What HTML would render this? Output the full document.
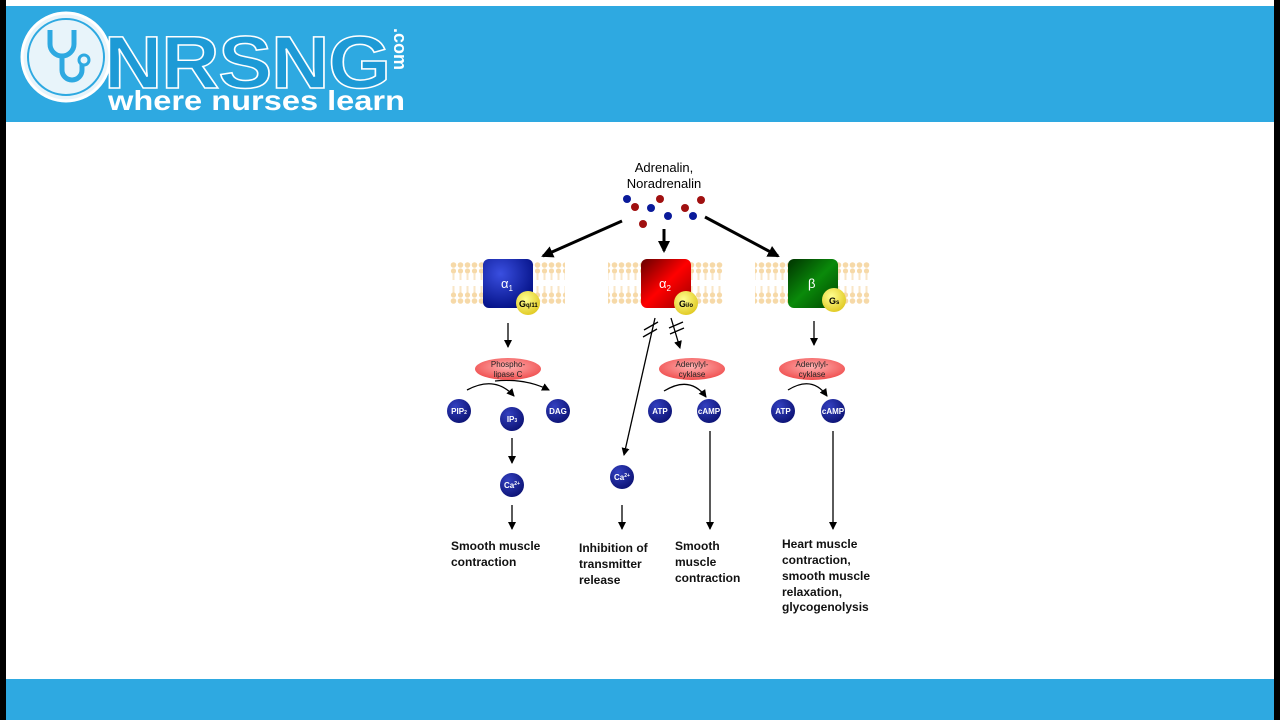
<!DOCTYPE html>
<html><head><meta charset="utf-8"><style>
body{margin:0;width:1280px;height:720px;overflow:hidden;background:#fff;font-family:"Liberation Sans",sans-serif}
</style></head><body>
<svg width="1280" height="720" viewBox="0 0 1280 720" xmlns="http://www.w3.org/2000/svg" font-family="Liberation Sans, sans-serif">
<defs>
<pattern id="lip" x="450" y="262" width="7" height="44" patternUnits="userSpaceOnUse">
<circle cx="3.5" cy="3" r="2.8" fill="#f6d9a8"/><circle cx="3.5" cy="9" r="2.6" fill="#f6d9a8"/>
<rect x="2.5" y="11" width="2" height="7" fill="#f9e6c6"/>
<rect x="2.5" y="24" width="2" height="7" fill="#f9e6c6"/>
<circle cx="3.5" cy="33" r="2.6" fill="#f6d9a8"/><circle cx="3.5" cy="39" r="2.8" fill="#f6d9a8"/>
</pattern>
<radialGradient id="bl" cx="0.35" cy="0.3" r="0.8"><stop offset="0" stop-color="#3a4fe0"/><stop offset="1" stop-color="#000d80"/></radialGradient>
<radialGradient id="ball" cx="0.35" cy="0.3" r="0.8"><stop offset="0" stop-color="#3340c0"/><stop offset="1" stop-color="#0a1070"/></radialGradient>
<linearGradient id="rd" x1="0" y1="0" x2="1" y2="1"><stop offset="0" stop-color="#600"/><stop offset="0.5" stop-color="#f00"/><stop offset="1" stop-color="#900"/></linearGradient>
<linearGradient id="gr" x1="0" y1="0" x2="1" y2="1"><stop offset="0" stop-color="#030"/><stop offset="0.5" stop-color="#0a8a0a"/><stop offset="1" stop-color="#040"/></linearGradient>
<radialGradient id="yl" cx="0.4" cy="0.35" r="0.7"><stop offset="0" stop-color="#ffff90"/><stop offset="1" stop-color="#e0c820"/></radialGradient>
<radialGradient id="el" cx="0.5" cy="0.4" r="0.6"><stop offset="0" stop-color="#ffb0b0"/><stop offset="1" stop-color="#f05050"/></radialGradient>
<marker id="ah" markerWidth="8" markerHeight="8" refX="7" refY="4" orient="auto" markerUnits="userSpaceOnUse"><path d="M0,0 L8,4 L0,8 Z" fill="#000"/></marker>
<marker id="ahb" markerWidth="12" markerHeight="12" refX="10" refY="6" orient="auto" markerUnits="userSpaceOnUse"><path d="M0,0 L12,6 L0,12 Z" fill="#000"/></marker>
</defs>
<rect x="0" y="0" width="6" height="720" fill="#000"/>
<rect x="1274" y="0" width="6" height="720" fill="#000"/>
<rect x="6" y="6" width="1268" height="116" fill="#2ea9e1"/>
<rect x="6" y="679" width="1268" height="41" fill="#2ea9e1"/>
<!-- logo -->
<circle cx="66" cy="57" r="44" fill="#e8f4fa" stroke="#fff" stroke-width="3"/>
<circle cx="66" cy="57" r="38" fill="none" stroke="#2ea9e1" stroke-width="2"/>
<path d="M50 30 v14 a12 12 0 0 0 24 0 v-14 M62 56 v14 a10 10 0 0 0 20 0 v-6" fill="none" stroke="#2ea9e1" stroke-width="5"/>
<circle cx="84" cy="60" r="5" fill="none" stroke="#2ea9e1" stroke-width="3"/>
<text x="104" y="88" font-size="74" font-weight="bold" fill="#1d9ad6" stroke="#fff" stroke-width="1.5" letter-spacing="-1" textLength="286" lengthAdjust="spacingAndGlyphs">NRSNG</text>
<text x="0" y="0" font-size="18" font-weight="bold" fill="#fff" transform="translate(394,28) rotate(90)">.com</text>
<text x="108" y="110" font-size="28" font-weight="bold" fill="#fff" textLength="297" lengthAdjust="spacingAndGlyphs">where nurses learn</text>
<!-- top labels -->
<text x="664" y="172" font-size="13" text-anchor="middle">Adrenalin,</text>
<text x="664" y="188" font-size="13" text-anchor="middle">Noradrenalin</text>
<g fill="#0a1a9a"><circle cx="627" cy="199" r="4"/><circle cx="651" cy="208" r="4"/><circle cx="668" cy="216" r="4"/><circle cx="693" cy="216" r="4"/></g>
<g fill="#a01010"><circle cx="635" cy="207" r="4"/><circle cx="660" cy="199" r="4"/><circle cx="643" cy="224" r="4"/><circle cx="685" cy="208" r="4"/><circle cx="701" cy="200" r="4"/></g>
<g stroke="#000" stroke-width="3">
<line x1="622" y1="221" x2="543" y2="256" marker-end="url(#ahb)"/>
<line x1="664" y1="229" x2="664" y2="251" marker-end="url(#ahb)"/>
<line x1="705" y1="217" x2="778" y2="256" marker-end="url(#ahb)"/>
</g>
<!-- membranes -->
<rect x="450" y="262" width="115" height="44" fill="url(#lip)"/>
<rect x="608" y="262" width="115" height="44" fill="url(#lip)"/>
<rect x="755" y="262" width="115" height="44" fill="url(#lip)"/>
<rect x="483" y="259" width="50" height="49" rx="6" fill="url(#bl)"/>
<rect x="641" y="259" width="50" height="49" rx="6" fill="url(#rd)"/>
<rect x="788" y="259" width="50" height="49" rx="6" fill="url(#gr)"/>
<g fill="#fff" font-size="13"><text x="501" y="288">α<tspan font-size="8" dy="3">1</tspan></text><text x="659" y="288">α<tspan font-size="8" dy="3">2</tspan></text><text x="808" y="288">β</text></g>
<circle cx="528" cy="303" r="12" fill="url(#yl)"/><circle cx="686" cy="303" r="12" fill="url(#yl)"/><circle cx="834" cy="300" r="12" fill="url(#yl)"/>
<g font-size="9" font-weight="bold"><text x="519" y="307">G<tspan font-size="6">q/11</tspan></text><text x="679" y="307">G<tspan font-size="6">i/o</tspan></text><text x="829" y="304">G<tspan font-size="6">s</tspan></text></g>
<!-- arrows thin -->
<g stroke="#000" stroke-width="1.3" fill="none">
<line x1="508" y1="323" x2="508" y2="347" marker-end="url(#ah)"/>
<line x1="814" y1="321" x2="814" y2="345" marker-end="url(#ah)"/>
<line x1="655" y1="318" x2="624" y2="455" marker-end="url(#ah)"/>
<line x1="671" y1="318" x2="680" y2="348" marker-end="url(#ah)"/>
<line x1="644" y1="330" x2="658" y2="322"/><line x1="643" y1="337" x2="657" y2="329"/>
<line x1="669" y1="328" x2="683" y2="322"/><line x1="670" y1="334" x2="684" y2="328"/>
<path d="M467 390 Q495 375 514 396" marker-end="url(#ah)"/>
<path d="M495 381 Q525 378 549 390" marker-end="url(#ah)"/>
<path d="M664 391 Q690 375 706 397" marker-end="url(#ah)"/>
<path d="M788 390 Q812 375 827 396" marker-end="url(#ah)"/>
<line x1="512" y1="438" x2="512" y2="463" marker-end="url(#ah)"/>
<line x1="512" y1="505" x2="512" y2="529" marker-end="url(#ah)"/>
<line x1="622" y1="505" x2="622" y2="529" marker-end="url(#ah)"/>
<line x1="710" y1="431" x2="710" y2="529" marker-end="url(#ah)"/>
<line x1="833" y1="431" x2="833" y2="529" marker-end="url(#ah)"/>
</g>
<!-- ellipses -->
<ellipse cx="508" cy="369" rx="33" ry="11" fill="url(#el)"/>
<ellipse cx="692" cy="369" rx="33" ry="11" fill="url(#el)"/>
<ellipse cx="812" cy="369" rx="33" ry="11" fill="url(#el)"/>
<g font-size="8" text-anchor="middle" fill="#222"><text x="508" y="367">Phospho-</text><text x="508" y="377">lipase C</text><text x="692" y="367">Adenylyl-</text><text x="692" y="377">cyklase</text><text x="812" y="367">Adenylyl-</text><text x="812" y="377">cyklase</text></g>
<!-- balls -->
<g fill="url(#ball)"><circle cx="459" cy="411" r="12"/><circle cx="512" cy="419" r="12"/><circle cx="558" cy="411" r="12"/><circle cx="512" cy="485" r="12"/><circle cx="660" cy="411" r="12"/><circle cx="709" cy="411" r="12"/><circle cx="622" cy="477" r="12"/><circle cx="783" cy="411" r="12"/><circle cx="833" cy="411" r="12"/></g>
<g fill="#fff" font-size="8" font-weight="bold" text-anchor="middle">
<text x="459" y="414">PIP<tspan font-size="5">2</tspan></text><text x="512" y="422">IP<tspan font-size="5">3</tspan></text><text x="558" y="414">DAG</text><text x="512" y="488">Ca<tspan font-size="5" dy="-3">2+</tspan></text><text x="660" y="414">ATP</text><text x="709" y="414">cAMP</text><text x="622" y="480">Ca<tspan font-size="5" dy="-3">2+</tspan></text><text x="783" y="414">ATP</text><text x="833" y="414">cAMP</text></g>
<!-- outcome text -->
<g font-size="12" font-weight="bold" fill="#111">
<text x="451" y="550">Smooth muscle</text><text x="451" y="566">contraction</text>
<text x="579" y="552">Inhibition of</text><text x="579" y="568">transmitter</text><text x="579" y="584">release</text>
<text x="675" y="550">Smooth</text><text x="675" y="566">muscle</text><text x="675" y="582">contraction</text>
<text x="782" y="548">Heart muscle</text><text x="782" y="564">contraction,</text><text x="782" y="580">smooth muscle</text><text x="782" y="596">relaxation,</text><text x="782" y="611">glycogenolysis</text>
</g>
</svg>
</body></html>
